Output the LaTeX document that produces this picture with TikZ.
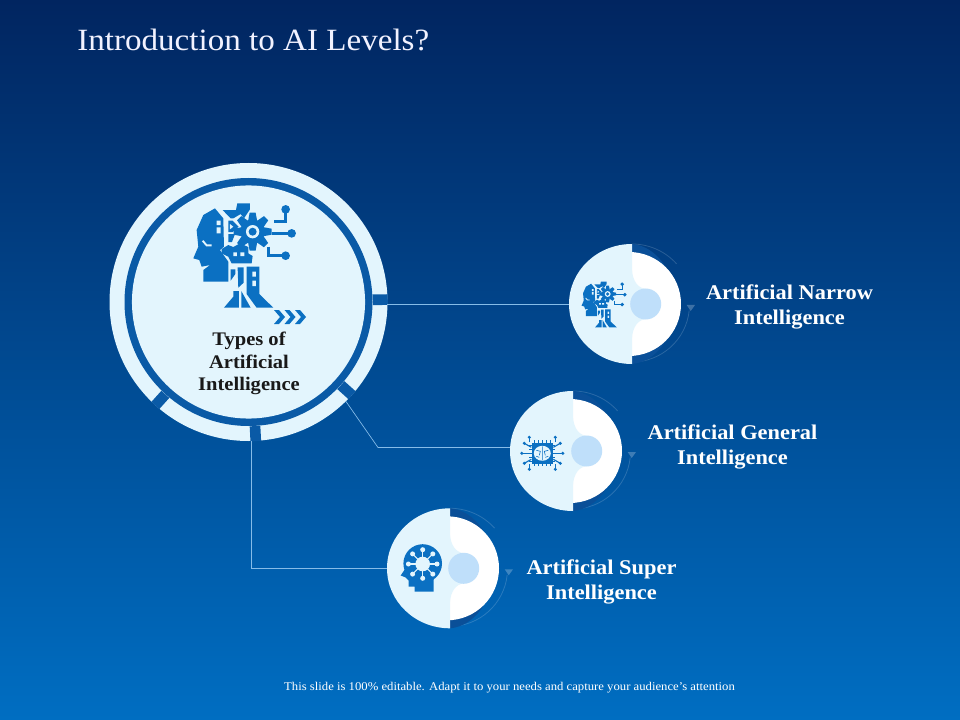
\documentclass[tikz,border=0pt]{standalone}
\usepackage{fontspec}
\setmainfont[FakeStretch=1.07]{Liberation Serif}
\definecolor{bgtop}{HTML}{012560}
\definecolor{bgmid}{HTML}{004C96}
\definecolor{bgbot}{HTML}{006EC2}
\definecolor{ringlight}{HTML}{E3F5FD}
\definecolor{ringdark}{HTML}{0A5AA6}
\definecolor{iconblue}{HTML}{0B70C2}
\definecolor{pale}{HTML}{BFDFFA}
\definecolor{linkc}{HTML}{86BCE8}
\definecolor{crescent}{HTML}{0A4F98}
\tikzset{
  link/.style={draw=linkc,line width=.5pt},
  labeltext/.style={text=white,align=center,font=\fontsize{15.7}{18.8}\selectfont\bfseries},
  hubtext/.style={text=black!90,align=center,font=\fontsize{14.4}{16.9}\selectfont\bfseries},
  gapbar/.style={draw=ringdark,line width=8pt},
  trace/.style={draw=iconblue,line join=miter},
}
% a half light, half white disc with its arcs and arrowhead
\newcommand\unitdisc[2]{%
 \begin{scope}[shift={(#1,#2)}]
  \draw[white,opacity=.16,line width=.6pt] (0,-60) arc (270:318:60);
  \draw[white,opacity=.16,line width=.6pt] (0,58) arc (90:6:57.5);
  \fill[white,opacity=.24] (54.7,1) -- (63,1) -- (58.7,7) -- cycle;
  \fill[crescent] (0,-60) .. controls (12,-59) and (24,-52) .. (33,-38) -- (0,-38) -- cycle;
  \fill[crescent] (0,60) .. controls (12,59) and (24,52) .. (33,38) -- (0,38) -- cycle;
  \fill[white] (-3,0) circle[radius=52];
  \fill[ringlight] (0,-60) arc[start angle=270,end angle=90,x radius=63,y radius=60] -- cycle;
  \fill[ringlight] (0,-33) .. controls (1,-24) and (5,-16) .. (14,-15) -- (14,15) .. controls (5,16) and (1,24) .. (0,33) -- cycle;
  \fill[pale] (13.7,0) circle[radius=15.5];
 \end{scope}}
% robot head icon; coordinates are in a 1/3 pixel grid
\newcommand\headicon[3]{%
 \begin{scope}[shift={(#1,#2)},scale=#3/3,shift={(-433,-320)}]
  \fill[iconblue] (345,175) -- (370,205) -- (372,290) -- (360,300) -- (385,335) -- (385,395) -- (310,395) -- (310,360) -- (330,345) -- (305,350) -- (298,330) -- (280,325) -- (295,290) -- (290,240) -- (310,195) -- cycle;
  \fill[ringlight] (350,212) rectangle (362,225) (350,232) rectangle (362,250);
  \draw[ringlight,line width=#3*1.4pt] (308,272) -- (320,286) -- (335,286);
  \fill[iconblue] (368,180) -- (408,180) -- (412,160) -- (450,160) -- (450,178) -- (432,205) -- (422,192) -- (400,205) -- (392,205) -- cycle;
  \fill[iconblue] (385,212) -- (398,212) -- (416,230) -- (398,246) -- (385,246) -- cycle;
  \fill[ringlight] (390,222) -- (400,230) -- (390,238) -- cycle;
  \fill[iconblue] (385,252) -- (405,252) -- (396,276) -- (385,276) -- cycle;
  \foreach \a in {0,45,...,315}
    \fill[iconblue,rotate around={\a:(458,245)}] (449,188) -- (467,188) -- (472,215) -- (444,215) -- cycle;
  \fill[iconblue] (458,245) circle[radius=36];
  \fill[ringlight] (458,245) circle[radius=20];
  \fill[iconblue] (458,245) circle[radius=12];
  \fill[iconblue] (365,297) -- (385,285) -- (400,291) -- (420,280) -- (445,291) -- (445,310) -- (458,318) -- (455,340) -- (395,340) -- (385,320) -- (365,310) -- cycle;
  \fill[ringlight] (400,307) rectangle (411,318) (421,307) rectangle (433,318);
  \fill[iconblue] (440,350) -- (478,350) -- (478,432) -- (520,473) -- (470,473) -- (440,432) -- cycle;
  \fill[ringlight] (457,365) rectangle (468,380) (457,392) rectangle (468,408);
  \fill[iconblue] (413,352) -- (431,352) -- (431,398) -- (415,413) -- cycle;
  \fill[iconblue] (392,358) -- (406,358) -- (406,372) -- (392,392) -- cycle;
  \fill[iconblue] (372,473) -- (400,440) -- (400,423) -- (417,423) -- (417,473) -- cycle;
  \fill[iconblue] (424,423) -- (452,473) -- (424,473) -- cycle;
  \draw[trace,line width=#3*2pt] (557,178) -- (557,215) -- (522,215);
  \draw[trace,line width=#3*2pt] (515,250) -- (575,250);
  \draw[trace,line width=#3*2pt] (505,290) -- (505,317) -- (557,317);
  \fill[iconblue] (557,178) circle[radius=13] (575,250) circle[radius=13] (557,317) circle[radius=13];
 \end{scope}}
\begin{document}
\begin{tikzpicture}[x=.75pt,y=-.75pt]
\useasboundingbox (0,0) rectangle (960,720);
\shade[top color=bgtop,middle color=bgmid,bottom color=bgbot] (0,0) rectangle (960,720);
% hub
\node[circle,minimum size=208.5pt,inner sep=0pt,fill=ringlight] (hub) at (248.5,302) {};
\node[circle,minimum size=186pt,inner sep=0pt,fill=ringdark] (hubring) at (hub.center) {};
\node[circle,minimum size=174.8pt,inner sep=0pt,fill=ringlight] (hubcore) at (hub.center) {};
\draw[gapbar] (hub.1.6) -- (hubring.1.6);
\draw[gapbar] (hub.-42) -- (hubring.-42);
\draw[gapbar] (hub.-87) -- (hubring.-87);
\draw[gapbar] (hub.-132) -- (hubring.-132);
% connectors
\coordinate (u1in) at (571,304);
\coordinate (u2in) at (511,447.5);
\coordinate (u3in) at (388,568);
\coordinate (b2) at (378,447.5);
\coordinate (b3) at (251,568);
\coordinate (s1) at (387,304);
\coordinate (s2) at (346,401.5);
\coordinate (s3) at (251,441);
\draw[link] (s1) -- (u1in);
\draw[link] (s2) -- (b2) -- (u2in);
\draw[link] (s3) -- (b3) -- (u3in);
% discs
\unitdisc{632}{304}
\unitdisc{573}{451}
\unitdisc{450}{568.3}
% icons
\headicon{244.3}{256.7}{1}
\headicon{604}{305}{.44}
\foreach \xx in {0,1,2}
  \fill[iconblue] (274+\xx*10.5,310) -- (279+\xx*10.5,310) -- (285+\xx*10.5,317) -- (279+\xx*10.5,324) -- (274+\xx*10.5,324) -- (280+\xx*10.5,317) -- cycle;
% chip icon
\begin{scope}[shift={(542.3,453.3)}]
  \foreach \dx/\dy/\ex/\ey in {-13/-11/-13/-16,-13/11/-13/16,13/-11/13/-16,13/11/13/16,-11/0/-20.5/0,11/0/20.5/0,-11/-6/-18/-10,11/-6/18/-10,-11/6/-18/10,11/6/18/10}{
    \draw[iconblue,line width=.85pt] (\dx,\dy) -- (\ex,\ey);
    \fill[iconblue] (\ex,\ey) circle[radius=1.7];
  }
  \foreach \t in {-8,-4,0,4,8}{
    \draw[iconblue,line width=.7pt] (\t,-13) -- (\t,13);
    \draw[iconblue,line width=.7pt] (-13,\t) -- (13,\t);
  }
  \fill[iconblue] (-10.5,-10.5) rectangle (10.5,10.5);
  \fill[ringlight] (0,0) ellipse[x radius=8.5,y radius=7.5];
  \draw[iconblue,line width=.45pt] (0,-7) -- (0,7) (-6,-3) -- (-2,-2) -- (-3,2) (6,-3) -- (2,-2) -- (3,2) (-6,3) -- (-3,4) (6,3) -- (3,4);
\end{scope}
% head with hub icon
\begin{scope}[shift={(422.7,563.5)}]
  \fill[iconblue] (0,0) circle[radius=19.3];
  \fill[iconblue] (-18,6) -- (-22,12) -- (-17,14) -- (-14,17) -- (-14,23) -- (-8,23) -- (-8,28) -- (11,28) -- (11,10) -- (-10,-5) -- cycle;
  \fill[ringlight] (0,0.5) circle[radius=7.3];
  \foreach \a in {0,45,...,315}{
    \draw[ringlight,line width=.8pt] ([shift={(0,.5)}]\a:6) -- ([shift={(0,.5)}]\a:14.3);
    \fill[ringlight] ([shift={(0,.5)}]\a:14.3) circle[radius=2.5];
  }
\end{scope}
% text
\node[anchor=base west,text=white!95!blue,inner sep=0pt,font=\fontsize{23.2}{26}\selectfont] (title) at (77,51) {Introduction to AI Levels?};
\node[hubtext] (hublabel) at (249,363.5) {Types of\\Artificial\\Intelligence};
\node[labeltext] (l1) at (789.5,306.5) {Artificial Narrow\\Intelligence};
\node[labeltext] (l2) at (732.5,446.5) {Artificial General\\Intelligence};
\node[labeltext] (l3) at (601.5,581.5) {Artificial Super\\Intelligence};
\node[text=white,font=\fontsize{8.9}{10}\selectfont,inner sep=0pt] (foot) at (509.5,688) {This slide is 100\% editable. Adapt it to your needs and capture your audience's attention};
\end{tikzpicture}
\end{document}
